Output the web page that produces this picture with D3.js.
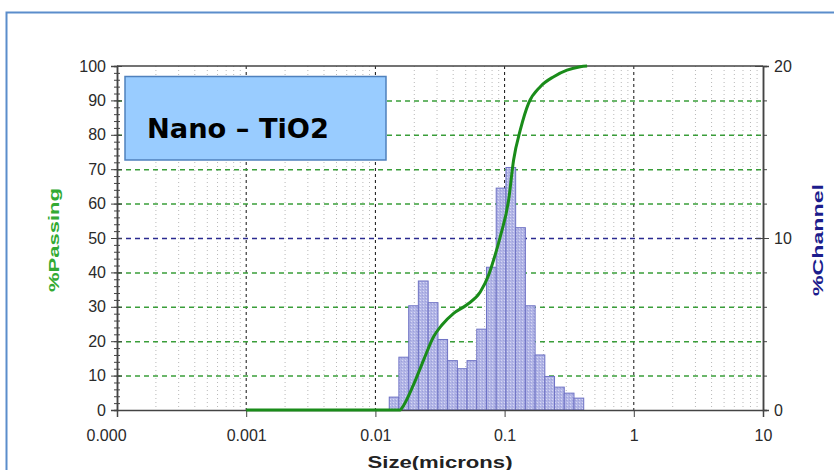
<!DOCTYPE html>
<html>
  <head>
    <meta charset="utf-8">
    <title>Nano - TiO2 particle size</title>
    <script src="https://d3js.org/d3.v7.min.js"></script>
    <style>
      body { margin: 0; background: #fff; }
      svg { display: block; font-family: "Liberation Sans", Arial, sans-serif; }
    </style>
  </head>
  <body>
    <div id="chart"></div>
    <script>
      // tick labels of the size axis
      var sizeTicks = [1e-4, 1e-3, 1e-2, 0.1, 1, 10];
      var sizeTickLabels = ["0.000", "0.001", "0.01", "0.1", "1", "10"];
      var passTicks = [0, 10, 20, 30, 40, 50, 60, 70, 80, 90, 100];
      var channelTicks = [0, 10, 20];

      // histogram channels (microns) and % channel
      var channelEdges = [0.0128, 0.0152, 0.0181, 0.0215, 0.0256, 0.0305, 0.0362, 0.0431,
                          0.0512, 0.0609, 0.0724, 0.0861, 0.1024, 0.1218, 0.1448, 0.1722,
                          0.2048, 0.2435, 0.2896, 0.3444, 0.4096];
      var channelPct = [0.75, 3.07, 6.06, 7.5, 6.24, 4.1, 2.87, 2.4, 2.87, 4.7,
                        8.3, 12.9, 14.1, 10.6, 6.06, 3.2, 1.95, 1.33, 0.98, 0.69];

      // cumulative % passing curve
      var passSize = [0.001, 0.0156, 0.0160, 0.0197, 0.0236, 0.0282, 0.0327, 0.0403, 0.0511,
                      0.0648, 0.0752, 0.0822, 0.0926, 0.1074, 0.1174, 0.1323, 0.1535, 0.189,
                      0.240, 0.304, 0.386, 0.435];
      var passPct = [0, 0, 0.5, 7.3, 14.5, 21.3, 24.7, 28.1, 30.6, 34.3, 39.2, 43.6, 50.4,
                     61, 72.7, 81.4, 89.2, 94, 96.9, 98.8, 99.8, 100];

      var width = 834, height = 470;
      var margin = {top: 66, right: 71, bottom: 60, left: 117};

      var svg = d3.select("#chart").append("svg")
                  .attr("width", width)
                  .attr("height", height);

      // speckled bar texture
      var pat = svg.append("defs").append("pattern")
                   .attr("id", "barfill")
                   .attr("patternUnits", "userSpaceOnUse")
                   .attr("width", 3).attr("height", 3);
      pat.append("rect").attr("width", 3).attr("height", 3).attr("fill", "#b2b5e6");
      pat.append("rect").attr("width", 1).attr("height", 1).attr("fill", "#d6d8f4");
      pat.append("rect").attr("x", 2).attr("y", 1).attr("width", 1).attr("height", 1).attr("fill", "#9da1dc");

      // outer frame
      svg.append("rect")
         .attr("x", 6.5).attr("y", 12.5)
         .attr("width", 900).attr("height", 500)
         .attr("fill", "none")
         .attr("stroke", "#5b8dcb")
         .attr("stroke-width", 2);

      var x = d3.scaleLog().domain([1e-4, 10]).range([margin.left, width - margin.right]);
      var y = d3.scaleLinear().domain([0, 100]).range([height - margin.bottom, margin.top]);
      var y2 = d3.scaleLinear().domain([0, 20]).range([height - margin.bottom, margin.top]);

      var x0 = x.range()[0], x1 = x.range()[1];
      var yb = y.range()[0], yt = y.range()[1];

      // minor log positions
      var minor = [];
      for (var e = -4; e < 1; e++) {
        for (var m = 2; m <= 9; m++) minor.push(m * Math.pow(10, e));
      }

      // vertical grid
      svg.append("g").selectAll("line").data(minor).enter().append("line")
         .attr("x1", function(d) { return x(d); }).attr("x2", function(d) { return x(d); })
         .attr("y1", yt).attr("y2", yb)
         .attr("stroke", "#b8b8b8")
         .attr("stroke-dasharray", "1,3");

      svg.append("g").selectAll("line").data(sizeTicks.slice(1, 5)).enter().append("line")
         .attr("x1", function(d) { return x(d); }).attr("x2", function(d) { return x(d); })
         .attr("y1", yt).attr("y2", yb)
         .attr("stroke", "#111")
         .attr("stroke-dasharray", "3,3");

      // horizontal grid
      svg.append("g").selectAll("line").data(passTicks.slice(1, 10)).enter().append("line")
         .attr("x1", x0).attr("x2", x1)
         .attr("y1", function(d) { return y(d) + 0.5; }).attr("y2", function(d) { return y(d) + 0.5; })
         .attr("stroke", function(d) { return d == 50 ? "#2a2a90" : "#3a9e3a"; })
         .attr("stroke-width", 1.5)
         .attr("stroke-dasharray", "5,4");

      // histogram
      svg.append("g").selectAll("rect").data(channelPct).enter().append("rect")
         .attr("x", function(d, i) { return x(channelEdges[i]); })
         .attr("width", function(d, i) { return x(channelEdges[i + 1]) - x(channelEdges[i]); })
         .attr("y", function(d) { return y2(d); })
         .attr("height", function(d) { return yb - y2(d); })
         .attr("fill", "url(#barfill)")
         .attr("stroke", "#6e72c4")
         .attr("stroke-width", 1);

      // axes
      var axisColor = "#444";
      var bottom = svg.append("g").attr("transform", "translate(0," + yb + ")");
      bottom.call(d3.axisBottom(x).tickValues(minor).tickSize(6).tickFormat(""));
      bottom.call(d3.axisBottom(x).tickValues(sizeTicks).tickSize(7).tickPadding(13)
             .tickFormat(function(d, i) { return sizeTickLabels[i]; }));
      bottom.selectAll(".tick text").filter(function(d, i) { return i == 0; }).attr("dx", -11);

      var left = svg.append("g").attr("transform", "translate(" + x0 + ",0)");
      left.call(d3.axisLeft(y).ticks(50).tickSize(3).tickFormat(""));
      left.selectAll(".tick line").attr("x2", 3).attr("x1", -3);
      var leftMajor = svg.append("g").attr("transform", "translate(" + x0 + ",0)");
      leftMajor.call(d3.axisLeft(y).tickValues(passTicks).tickSize(6).tickPadding(5));
      leftMajor.selectAll(".tick line").attr("x2", -6).attr("x1", 5);

      var right = svg.append("g").attr("transform", "translate(" + x1 + ",0)");
      right.call(d3.axisRight(y2).ticks(10).tickSize(4).tickFormat(""));
      var rightMajor = svg.append("g").attr("transform", "translate(" + x1 + ",0)");
      rightMajor.call(d3.axisRight(y2).tickValues(channelTicks).tickSize(6).tickPadding(5));
      rightMajor.selectAll(".tick line").attr("x1", -8);

      svg.selectAll(".domain").attr("stroke", axisColor).attr("stroke-width", 1.5);
      svg.selectAll(".tick line").attr("stroke", axisColor);
      svg.selectAll(".tick text").attr("fill", "#2a2a2a").style("font-size", "16px")
         .attr("font-family", "Liberation Sans, Arial, sans-serif");

      // top border
      svg.append("line")
         .attr("x1", x0).attr("x2", x1).attr("y1", yt).attr("y2", yt)
         .attr("stroke", axisColor).attr("stroke-width", 1.5);

      // % passing curve
      var line = d3.line()
                   .x(function(d, i) { return x(passSize[i]); })
                   .y(function(d) { return y(d); })
                   .curve(d3.curveMonotoneX);
      svg.append("path")
         .datum(passPct)
         .attr("d", line)
         .attr("fill", "none")
         .attr("stroke", "#1a8c1a")
         .attr("stroke-width", 3);

      // label box
      svg.append("rect")
         .attr("x", 125).attr("y", 76.5)
         .attr("width", 261).attr("height", 83.5)
         .attr("fill", "#99ccff")
         .attr("stroke", "#4f81bd")
         .attr("stroke-width", 1.5);
      svg.append("text")
         .attr("x", 147).attr("y", 137.5)
         .attr("font-family", "DejaVu Sans, Verdana, sans-serif")
         .attr("font-weight", "bold")
         .attr("font-size", 26)
         .attr("textLength", 182)
         .attr("lengthAdjust", "spacingAndGlyphs")
         .text("Nano \u2013 TiO2");

      // axis titles
      svg.append("text")
         .attr("transform", "translate(59,240) rotate(-90)")
         .attr("text-anchor", "middle")
         .attr("font-weight", "bold")
         .attr("font-size", 14)
         .attr("fill", "#33aa33")
         .attr("textLength", 104)
         .attr("lengthAdjust", "spacingAndGlyphs")
         .text("%Passing");
      svg.append("text")
         .attr("transform", "translate(823,240) rotate(-90)")
         .attr("text-anchor", "middle")
         .attr("font-weight", "bold")
         .attr("font-size", 14)
         .attr("fill", "#1c1c8c")
         .attr("textLength", 112)
         .attr("lengthAdjust", "spacingAndGlyphs")
         .text("%Channel");
      svg.append("text")
         .attr("x", 440).attr("y", 468)
         .attr("text-anchor", "middle")
         .attr("font-weight", "bold")
         .attr("font-size", 16)
         .attr("fill", "#222")
         .attr("textLength", 145)
         .attr("lengthAdjust", "spacingAndGlyphs")
         .text("Size(microns)");
    </script>
  </body>
</html>
